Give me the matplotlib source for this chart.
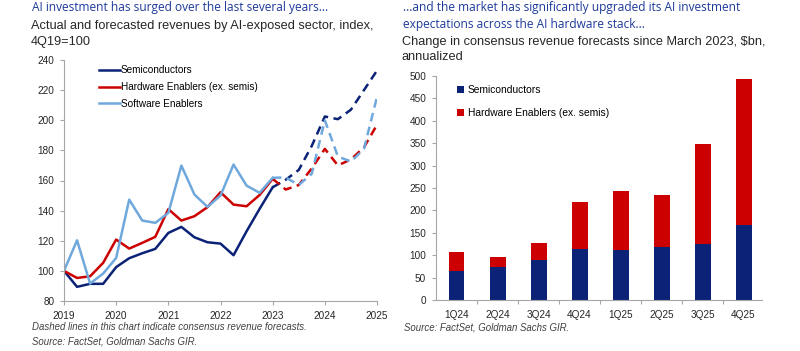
import matplotlib.pyplot as plt

plt.rcParams['font.family'] = ['Liberation Sans', 'DejaVu Sans']

# left chart: quarterly index, 4Q19=100
years = [2019 + i / 4 for i in range(25)]
semis = [100, 89.4, 91.4, 91.4, 102.5, 108.4, 111.7, 114.6, 125.2, 129.2, 122.3, 119, 118.1,
         110.4, 126.3, 141.2, 155.5, 160.5, 167, 183, 202.5, 200.7, 207, 220, 233]
hardware = [100, 95.3, 96.4, 105.3, 120.8, 114.8, 118.6, 122.6, 141, 133.4, 136.3, 142.3, 152.2,
            144, 142.9, 150.4, 161.1, 154, 157, 168, 181, 170, 174, 182, 197]
software = [100, 120.3, 91.6, 98.2, 108.6, 147.3, 133.4, 131.9, 138.5, 169.9, 150.7, 142.5, 150,
            170.6, 156.6, 151.8, 161.8, 162, 157, 164.5, 200, 176, 172.5, 181, 215.5]
n_actual = 17  # up to 2023 are actuals, after that consensus forecasts

# right chart: change in consensus revenue forecasts, $bn
quarters = ['1Q24', '2Q24', '3Q24', '4Q24', '1Q25', '2Q25', '3Q25', '4Q25']
bar_semis = [65, 73, 90, 114, 112, 118, 126, 167]
bar_total = [107, 95, 128, 219, 244, 235, 348, 494]
bar_hw = [t - s for t, s in zip(bar_total, bar_semis)]

navy = '#0B2277'
red = '#CC0000'
light = '#6FA8DC'
title_blue = '#1D3A9A'
axis_gray = '#A6A6A6'
text_col = '#262626'
note_col = '#404040'

W, H = 800, 351
fig = plt.figure(figsize=(8, 3.51), dpi=100)


def box(x0, y0, x1, y1):
    return [x0 / W, 1 - y1 / H, (x1 - x0) / W, (y1 - y0) / H]


def style(ax):
    for s in ['top', 'right']:
        ax.spines[s].set_visible(False)
    for s in ['left', 'bottom']:
        ax.spines[s].set_color(axis_gray)
        ax.spines[s].set_linewidth(0.8)
    ax.tick_params(colors=axis_gray, labelcolor=text_col, labelsize=7.2, length=3, width=0.8)


def put(px, py, s, **kw):
    # text placed by its baseline, in pixel coordinates from the top left
    fig.text(px / W, 1 - py / H, s, va='baseline', **kw)


# ---- left chart
ax1 = fig.add_axes(box(64, 60, 377, 301))
style(ax1)
for vals, col, lab in [(semis, navy, 'Semiconductors'),
                       (hardware, red, 'Hardware Enablers (ex. semis)'),
                       (software, light, 'Software Enablers')]:
    ax1.plot(years[:n_actual], vals[:n_actual], color=col, lw=1.8, label=lab)
    ax1.plot(years[n_actual - 1:], vals[n_actual - 1:], color=col, lw=1.8, ls=(0, (3.5, 2.2)))
ax1.set_xlim(2019, 2025)
ax1.set_ylim(80, 240)
ax1.set_xticks(range(2019, 2026))
ax1.set_yticks(range(80, 241, 20))
ax1.tick_params(axis='y', pad=4)
ax1.tick_params(axis='x', pad=4)
ax1.legend(loc='upper left', bbox_to_anchor=(0.082, 1.015), frameon=False, fontsize=7.2,
           handlelength=2.1, handletextpad=0.1, labelspacing=0.68)

# ---- right chart
ax2 = fig.add_axes(box(436, 76, 762, 300))
style(ax2)
x = range(len(quarters))
ax2.bar(x, bar_semis, width=0.39, color=navy, label='Semiconductors')
ax2.bar(x, bar_hw, width=0.39, bottom=bar_semis, color=red, label='Hardware Enablers (ex. semis)')
ax2.set_xlim(-0.5, 7.45)
ax2.set_ylim(0, 500)
ax2.set_yticks(range(0, 501, 50))
ax2.set_xticks(list(x))
ax2.set_xticklabels(quarters)
ax2.set_xticks([i + 0.5 for i in range(7)], minor=True)
ax2.tick_params(axis='x', which='major', length=0, pad=7.5)
ax2.tick_params(axis='x', which='minor', length=3, width=0.8, colors=axis_gray)
ax2.tick_params(axis='y', pad=4)
ax2.legend(loc='upper left', bbox_to_anchor=(0.035, 1.0), frameon=False, fontsize=7.4,
           handlelength=0.7, handleheight=0.7, handletextpad=0.4, labelspacing=1.25)

# ---- titles and notes
tkw = dict(color=title_blue, fontsize=8.6, family='Open Sans')
skw = dict(color=text_col, fontsize=9.2)
nkw = dict(color=note_col, fontsize=6.9, style='italic')

put(32, 11, 'AI investment has surged over the last several years...', **tkw)
put(31, 29.5, 'Actual and forecasted revenues by AI-exposed sector, index,', **skw)
put(31, 45, '4Q19=100', **skw)

put(403, 11, '...and the market has significantly upgraded its AI investment', **tkw)
put(403, 28, 'expectations across the AI hardware stack...', **tkw)
put(402, 45, 'Change in consensus revenue forecasts since March 2023, $bn,', **skw)
put(402, 60.5, 'annualized', **skw)

put(32, 330, 'Dashed lines in this chart indicate consensus revenue forecasts.', **nkw)
put(32, 345, 'Source: FactSet, Goldman Sachs GIR.', **nkw)
put(404, 330, 'Source: FactSet, Goldman Sachs GIR.', **nkw)

fig.savefig('out.png', dpi=100)
